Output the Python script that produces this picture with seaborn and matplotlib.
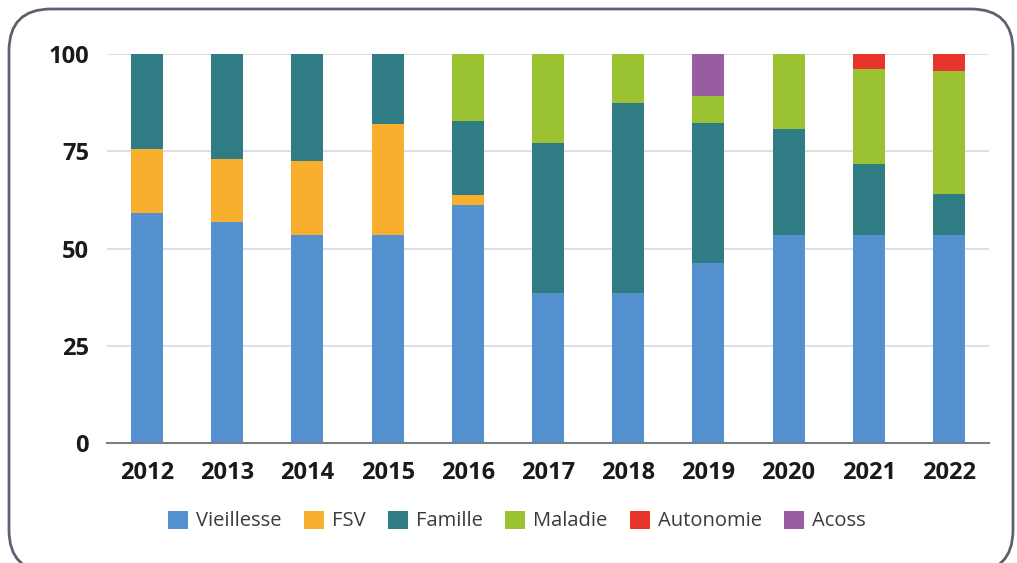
import matplotlib
matplotlib.use("Agg")
import matplotlib.pyplot as plt
from matplotlib.patches import FancyBboxPatch, Patch
import seaborn as sns
import numpy as np
import pandas as pd

years = ["2012", "2013", "2014", "2015", "2016", "2017", "2018", "2019", "2020", "2021", "2022"]
vieillesse = [59.1, 56.8, 53.5, 53.5, 61.2, 38.6, 38.6, 46.3, 53.5, 53.5, 53.5]
fsv        = [16.5, 16.2, 19.0, 28.5, 2.6, 0, 0, 0, 0, 0, 0]
famille    = [24.4, 27.0, 27.5, 18.0, 19.0, 38.4, 48.8, 36.0, 27.3, 18.2, 10.6]
maladie    = [0, 0, 0, 0, 17.2, 23.0, 12.6, 6.9, 19.2, 24.4, 31.6]
autonomie  = [0, 0, 0, 0, 0, 0, 0, 0, 0, 3.9, 4.3]
acoss      = [0, 0, 0, 0, 0, 0, 0, 10.8, 0, 0, 0]

series = ["Vieillesse", "FSV", "Famille", "Maladie", "Autonomie", "Acoss"]
values = [vieillesse, fsv, famille, maladie, autonomie, acoss]
colors = ["#5591CF", "#F8AF2E", "#2F7C85", "#9BC230", "#E8352C", "#995CA3"]
yticks = [0, 25, 50, 75, 100]

sns.set_theme(style="white")
plt.rcParams["font.family"] = ["Open Sans", "DejaVu Sans"]

W, H = 1017, 563
fig = plt.figure(figsize=(W / 100, H / 100), dpi=100)
ax = fig.add_axes([107 / W, 1 - 443 / H, (989 - 107) / W, (443 - 54) / H])

cum = np.cumsum(np.array(values, dtype=float), axis=0)
# draw from top layer down so lower layers overlay
for i in range(len(series) - 1, -1, -1):
    df = pd.DataFrame({"year": years, "v": cum[i]})
    sns.barplot(data=df, x="year", y="v", order=years, color=colors[i],
                saturation=1, width=0.4, ax=ax, linewidth=0, zorder=3)

ax.set_xlim(-0.5, len(years) - 0.5)
ax.set_ylim(0, 100)
ax.set_yticks(yticks)
ax.set_yticklabels([str(t) for t in yticks], fontsize=17, fontweight="bold", color="#1a1a1a")
ax.set_xticks(range(len(years)))
ax.set_xticklabels(years, fontsize=17, fontweight="bold", color="#1a1a1a")
ax.tick_params(axis="both", length=0)
ax.tick_params(axis="x", pad=13)
ax.tick_params(axis="y", pad=13)
ax.set_xlabel("")
ax.set_ylabel("")
ax.grid(axis="y", color="#d5d9e0", linewidth=1.2, zorder=0)
ax.set_axisbelow(True)
for s in ["top", "right", "left"]:
    ax.spines[s].set_visible(False)
ax.spines["bottom"].set_color("#7a8088")
ax.spines["bottom"].set_linewidth(1.5)
ax.spines["bottom"].set_zorder(4)

handles = [Patch(facecolor=c, edgecolor="none", label=s) for s, c in zip(series, colors)]
fig.legend(handles=handles, loc="center", bbox_to_anchor=(517 / W, 1 - 521 / H),
           ncol=6, frameon=False, fontsize=14.5, handlelength=1.0, handleheight=1.0,
           handletextpad=0.4, columnspacing=1.1, labelcolor="#3a3a3a")

x0, y0, x1, y1 = 9, 9, 1013, 572
box = FancyBboxPatch((x0 / W, 1 - y1 / H), (x1 - x0) / W, (y1 - y0) / H,
                     boxstyle="round,pad=0,rounding_size=%f" % (42 / W),
                     transform=fig.transFigure, facecolor="none",
                     edgecolor="#5c6370", linewidth=2, mutation_aspect=W / H)
fig.patches.append(box)

fig.savefig("out.png", dpi=100)
